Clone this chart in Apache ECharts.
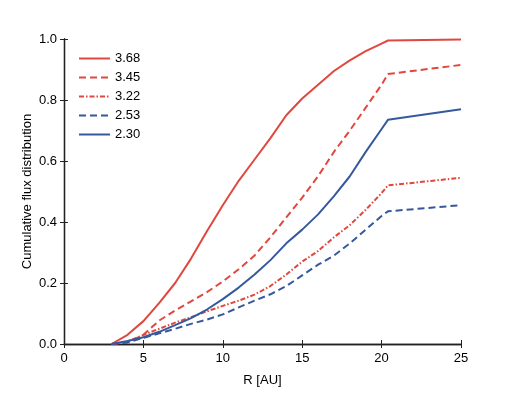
<!DOCTYPE html>
<html><head><meta charset="utf-8">
<script src="https://cdn.jsdelivr.net/npm/echarts@6/dist/echarts.min.js"></script>
<style>html,body{margin:0;padding:0;background:#fff}#c{width:512px;height:394px}</style>
</head><body><div id="c"></div>
<script>
const radii = [3,4,5,6,7,8,9,10,11,12,13,14,15,16,17,18,19,20,20.4,25];
const s368 = [0,0.03,0.075,0.135,0.2,0.28,0.37,0.455,0.535,0.605,0.675,0.75,0.805,0.85,0.895,0.93,0.96,0.985,0.995,0.998];
const s345 = [0,0.005,0.03,0.077,0.11,0.14,0.17,0.205,0.245,0.29,0.35,0.415,0.48,0.55,0.63,0.70,0.775,0.85,0.885,0.915];
const s322 = [0,0.008,0.03,0.05,0.07,0.088,0.107,0.125,0.142,0.162,0.19,0.228,0.27,0.305,0.35,0.39,0.44,0.495,0.52,0.545];
const s253 = [0,0.005,0.02,0.035,0.05,0.066,0.08,0.097,0.12,0.142,0.163,0.19,0.225,0.26,0.29,0.33,0.375,0.42,0.435,0.455];
const s230 = [0,0.01,0.022,0.04,0.062,0.085,0.113,0.147,0.185,0.228,0.275,0.33,0.375,0.425,0.485,0.55,0.63,0.705,0.735,0.77];
const seriesNames = ['3.68','3.45','3.22','2.53','2.30'];
const xTicks = [0,5,10,15,20,25];
const yTicks = [0,0.2,0.4,0.6,0.8,1.0];

const RED = '#e0483f', BLUE = '#36589c';
const defs = [
  {data:s368, color:RED, type:'solid'},
  {data:s345, color:RED, type:[7,4]},
  {data:s322, color:RED, type:[5,2,1.5,2]},
  {data:s253, color:BLUE, type:[7,4]},
  {data:s230, color:BLUE, type:'solid'}
];
const font = 'Liberation Sans, Arial, sans-serif';
const axisCommon = {
  axisLine:{show:true, lineStyle:{color:'#222', width:1.3}},
  axisTick:{show:true, inside:true, length:4, lineStyle:{color:'#222', width:1}},
  splitLine:{show:false}
};
const chart = echarts.init(document.getElementById('c'));
chart.setOption({
  animation:false,
  backgroundColor:'#fff',
  textStyle:{fontFamily:font},
  grid:{left:64, right:51, top:39, bottom:50},
  legend:{
    left:73, top:47, orient:'vertical', itemGap:6, itemWidth:31, itemHeight:14,
    itemStyle:{opacity:0},
    textStyle:{fontSize:13, color:'#000', fontFamily:font},
    data:seriesNames
  },
  xAxis:[
    Object.assign({type:'value', min:0, max:25, interval:5, name:'R [AU]', nameLocation:'middle', nameGap:30,
      nameMoveOverlap:false,
      nameTextStyle:{fontSize:13, color:'#000'},
      axisLabel:{fontSize:13, color:'#000', margin:8, formatter:v=>String(v)}}, axisCommon),
    Object.assign({type:'value', min:0, max:25, interval:5, position:'top', axisLabel:{show:false}}, axisCommon)
  ],
  yAxis:[
    Object.assign({type:'value', min:0, max:1, interval:0.2, name:'Cumulative flux distribution', nameLocation:'middle', nameGap:30,
      nameMoveOverlap:false,
      nameTextStyle:{fontSize:13, color:'#000'},
      axisLabel:{fontSize:13, color:'#000', margin:7, formatter:v=>v.toFixed(1)}}, axisCommon),
    Object.assign({type:'value', min:0, max:1, interval:0.2, position:'right', axisLabel:{show:false}}, axisCommon)
  ],
  series: defs.map((d,i)=>({
    name:seriesNames[i], type:'line', symbol:'none', showSymbol:false,
    data: radii.map((r,j)=>[r, d.data[j]]),
    lineStyle:{color:d.color, width:2, type:d.type},
    itemStyle:{color:d.color}
  }))
});
</script></body></html>
